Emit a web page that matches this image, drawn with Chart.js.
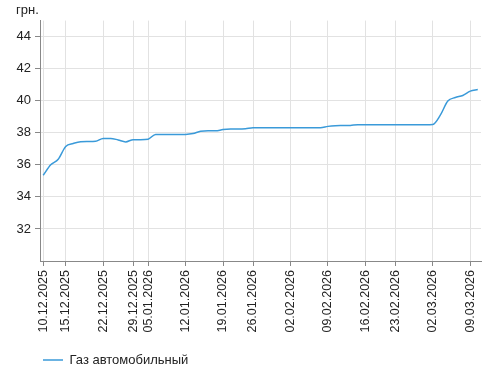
<!DOCTYPE html>
<html>
<head>
<meta charset="utf-8">
<script src="https://cdn.jsdelivr.net/npm/chart.js@4"></script>
<style>
html,body{margin:0;padding:0;background:#fff;}
#wrap{width:490px;height:379px;}
</style>
</head>
<body>
<div id="wrap"><canvas id="c" width="490" height="379"></canvas></div>
<script>
const dates = [
 '10.12.2025','11.12.2025','12.12.2025','15.12.2025','16.12.2025','17.12.2025','18.12.2025','19.12.2025',
 '22.12.2025','23.12.2025','24.12.2025','26.12.2025','29.12.2025','30.12.2025',
 '05.01.2026','06.01.2026','07.01.2026','08.01.2026','09.01.2026',
 '12.01.2026','13.01.2026','14.01.2026','15.01.2026','16.01.2026',
 '19.01.2026','20.01.2026','21.01.2026','22.01.2026',
 '26.01.2026','27.01.2026','28.01.2026','29.01.2026','30.01.2026',
 '02.02.2026','03.02.2026','04.02.2026','05.02.2026','06.02.2026',
 '09.02.2026','10.02.2026','11.02.2026','12.02.2026','13.02.2026',
 '16.02.2026','17.02.2026','18.02.2026','19.02.2026',
 '23.02.2026','24.02.2026','25.02.2026','26.02.2026','27.02.2026',
 '02.03.2026','03.03.2026','04.03.2026','05.03.2026','06.03.2026',
 '09.03.2026','10.03.2026'
];
const values = [
 35.35,36.0,36.35,37.15,37.33,37.44,37.45,37.47,
 37.65,37.65,37.55,37.43,37.57,37.57,
 37.6,37.9,37.9,37.9,37.9,
 37.9,37.95,38.1,38.12,38.12,
 38.2,38.23,38.23,38.25,
 38.32,38.32,38.32,38.32,38.32,
 38.32,38.32,38.32,38.32,38.32,
 38.4,38.44,38.45,38.46,38.5,
 38.5,38.5,38.5,38.5,
 38.5,38.5,38.5,38.5,38.5,
 38.52,39.1,39.98,40.2,40.33,
 40.6,40.7
];
const tickDates = ['10.12.2025','15.12.2025','22.12.2025','29.12.2025','05.01.2026','12.01.2026','19.01.2026',
 '26.01.2026','02.02.2026','09.02.2026','16.02.2026','23.02.2026','02.03.2026','09.03.2026'];
const yTicks = [32,34,36,38,40,42,44];
const seriesName = 'Газ автомобильный';
const unitLabel = 'грн.';

Chart.defaults.font.family = '"Liberation Sans", Arial, sans-serif';
Chart.defaults.font.size = 13;
Chart.defaults.color = '#222';

const lineColor = '#3a9ad9';

new Chart(document.getElementById('c'), {
  type: 'line',
  data: {
    datasets: [{
      label: seriesName,
      data: dates.map((d, i) => ({x: i, y: values[i]})),
      borderColor: lineColor,
      backgroundColor: lineColor,
      borderWidth: 1.5,
      pointRadius: 0,
      pointHoverRadius: 0,
      cubicInterpolationMode: 'monotone',
      pointStyle: 'line',
      fill: false
    }]
  },
  options: {
    responsive: false,
    animation: false,
    events: [],
    layout: {padding: {left: 16, right: 9, top: 0, bottom: 2.5}},
    plugins: {
      tooltip: {enabled: false},
      title: {
        display: true,
        text: unitLabel,
        align: 'start',
        color: '#222',
        font: {size: 13, weight: 'normal'},
        padding: {top: 3, bottom: 2}
      },
      legend: {
        position: 'bottom',
        align: 'start',
        fullSize: false,
        labels: {
          usePointStyle: true,
          pointStyle: 'line',
          pointStyleWidth: 20,
          padding: 3,
          color: '#222',
          font: {size: 13}
        }
      }
    },
    scales: {
      x: {
        type: 'linear',
        min: -0.43,
        max: 58.43,
        afterBuildTicks: s => { s.ticks = tickDates.map(d => ({value: dates.indexOf(d)})); },
        afterFit: s => { s.height = 89.5; },
        ticks: {
          autoSkip: false,
          maxRotation: 90,
          minRotation: 90,
          padding: 4,
          color: '#222',
          font: {size: 12.5, lineHeight: 0.6},
          callback: v => dates[v]
        },
        grid: {color: '#e2e2e2', tickColor: '#888', tickLength: 5, lineWidth: 1},
        border: {color: '#888', width: 1}
      },
      y: {
        min: 30,
        max: 45,
        afterBuildTicks: s => { s.ticks = yTicks.map(v => ({value: v})); },
        afterFit: s => { s.width = 24; },
        ticks: {padding: 4, color: '#222'},
        grid: {color: '#e2e2e2', tickColor: '#888', tickLength: 5, lineWidth: 1},
        border: {color: '#888', width: 1}
      }
    }
  }
});
</script>
</body>
</html>
